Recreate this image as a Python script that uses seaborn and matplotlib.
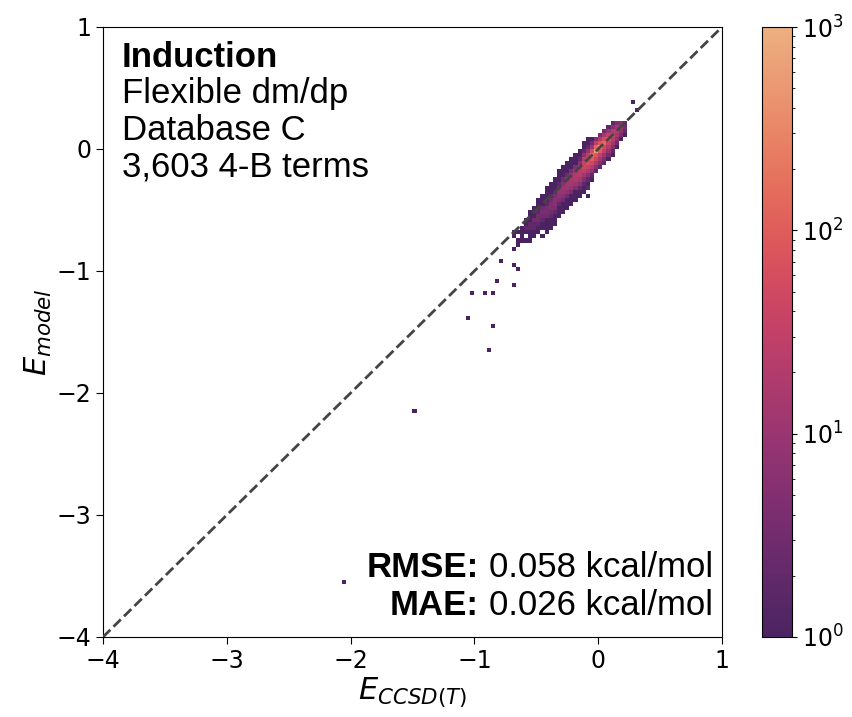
import numpy as np
import pandas as pd
import matplotlib
matplotlib.use("Agg")
import matplotlib.pyplot as plt
import seaborn as sns
from matplotlib.colors import LogNorm

# 2D histogram (bin width 1/30 kcal/mol).
# one entry per x-bin column: bin centre, lowest occupied y-bin centre,
# then the counts going up one bin at a time
col_x = [-0.683, -0.650, -0.617, -0.583, -0.550, -0.517, -0.483, -0.450,
         -0.417, -0.383, -0.350, -0.317, -0.283, -0.250, -0.217, -0.183,
         -0.150, -0.117, -0.083, -0.050, -0.017, 0.017, 0.050, 0.083,
         0.117, 0.150, 0.183, 0.217]
col_y0 = [-0.817, -0.783, -0.750, -0.750, -0.750, -0.717, -0.683, -0.650,
          -0.683, -0.650, -0.617, -0.550, -0.517, -0.483, -0.450, -0.417,
          -0.383, -0.350, -0.317, -0.250, -0.183, -0.150, -0.117, -0.083,
          -0.050, 0.017, 0.083, 0.117]
col_counts = [
    [1, 0, 0, 1, 1],
    [1, 1, 0, 1],
    [1, 1, 1, 1],
    [1, 0, 1, 2, 1, 1],
    [1, 1, 1, 2, 2, 1, 1, 1],
    [1, 1, 2, 2, 3, 1, 1, 1],
    [1, 1, 2, 3, 3, 2, 1, 1, 1],
    [1, 1, 2, 3, 4, 3, 1, 1, 1],
    [1, 1, 1, 1, 3, 4, 4, 2, 1, 1, 1, 1],
    [1, 1, 1, 2, 3, 5, 5, 3, 2, 1, 1, 1],
    [1, 1, 1, 2, 4, 6, 6, 4, 2, 1, 1, 1],
    [1, 1, 1, 2, 5, 7, 8, 5, 2, 1, 1, 1],
    [1, 1, 1, 3, 6, 9, 10, 6, 3, 1, 1, 1],
    [1, 1, 1, 3, 7, 11, 12, 8, 3, 1, 1, 1],
    [1, 1, 1, 4, 9, 14, 15, 10, 4, 1, 1, 1],
    [1, 1, 1, 5, 11, 17, 19, 12, 5, 1, 1, 1],
    [1, 1, 2, 6, 14, 22, 25, 16, 6, 2, 1, 1],
    [1, 1, 2, 5, 12, 28, 45, 38, 20, 7, 2, 1, 1],
    [1, 1, 2, 6, 16, 36, 62, 54, 27, 8, 2, 1, 1],
    [1, 2, 7, 20, 45, 100, 214, 55, 11, 3, 1],
    [2, 6, 16, 40, 85, 586, 150, 28, 5],
    [2, 5, 14, 32, 100, 350, 85, 18, 4],
    [2, 4, 11, 28, 55, 140, 55, 14, 3],
    [1, 3, 8, 18, 36, 75, 32, 9, 2],
    [1, 2, 5, 12, 24, 42, 20, 6, 2],
    [1, 3, 7, 13, 20, 13, 5],
    [1, 4, 7, 11, 6],
    [1, 2, 3, 2],
]

# single terms away from the main band
out_x = [-2.045, -1.494, -0.890, -0.834, -1.041, -1.014, -0.922, -0.860, -0.801,
         -0.680, -0.775, -0.660, -0.670, -0.093, -0.093, 0.283, 0.317, -0.444]
out_y = [-3.555, -2.139, -1.653, -1.440, -1.383, -1.199, -1.170, -1.199, -1.082,
         -1.109, -0.924, -0.990, -0.950, -0.322, -0.385, 0.383, 0.317, -0.720]

header = "Induction"
sub_lines = ["Flexible dm/dp", "Database C", "3,603 4-B terms"]
stat_names = ["RMSE:", "MAE:"]
stat_values = ["0.058 kcal/mol", "0.026 kcal/mol"]

BW = 1 / 30

xs, ys, ws = [], [], []
for x, y0, counts in zip(col_x, col_y0, col_counts):
    for i, c in enumerate(counts):
        if c > 0:
            xs.append(x)
            ys.append(y0 + i * BW)
            ws.append(c)
xs += out_x
ys += out_y
ws += [1] * len(out_x)
df = pd.DataFrame({"E_ref": xs, "E_model": ys, "n": ws})

fig = plt.figure(figsize=(8.52, 7.17), dpi=100)
ax = fig.add_axes([103 / 852, 80 / 717, 619 / 852, 610 / 717])
cax = fig.add_axes([762 / 852, 80 / 717, 30 / 852, 610 / 717])

sns.histplot(data=df, x="E_ref", y="E_model", weights="n",
             binwidth=BW, binrange=((-2.1, 0.4), (-3.6, 0.4)),
             cmap="flare_r", norm=LogNorm(1, 1000), vmin=None, vmax=None,
             cbar=True, cbar_ax=cax, ax=ax)

# parity line
ax.axline((0, 0), slope=1, ls="--", color="#444444", lw=2, zorder=3)

ax.set_xlim(-4, 1)
ax.set_ylim(-4, 1)
ax.set_xticks(range(-4, 2))
ax.set_yticks(range(-4, 2))
ax.tick_params(labelsize=17, length=5)
cax.tick_params(labelsize=17)
ax.set_xlabel(r"$E_{CCSD(T)}$", fontsize=22, labelpad=2)
ax.set_ylabel(r"$E_{model}$", fontsize=22, labelpad=2)

txt_font = dict(family=["Liberation Sans", "DejaVu Sans"], fontsize=25)
ax.text(0.03, 0.935, header, transform=ax.transAxes, fontweight="bold",
        va="baseline", **txt_font)
for k, line in enumerate(sub_lines):
    ax.text(0.03, 0.875 - k * 0.06, line, transform=ax.transAxes,
            va="baseline", **txt_font)

for yy, name, val in zip([0.099, 0.036], stat_names, stat_values):
    t = ax.text(0.985, yy, val, transform=ax.transAxes, ha="right",
                va="baseline", **txt_font)
    ax.annotate(name, xy=(0, 0), xycoords=t, xytext=(-7, 0),
                textcoords="offset points", ha="right", va="bottom",
                fontweight="bold", **txt_font)

fig.savefig("out.png", dpi=100)
